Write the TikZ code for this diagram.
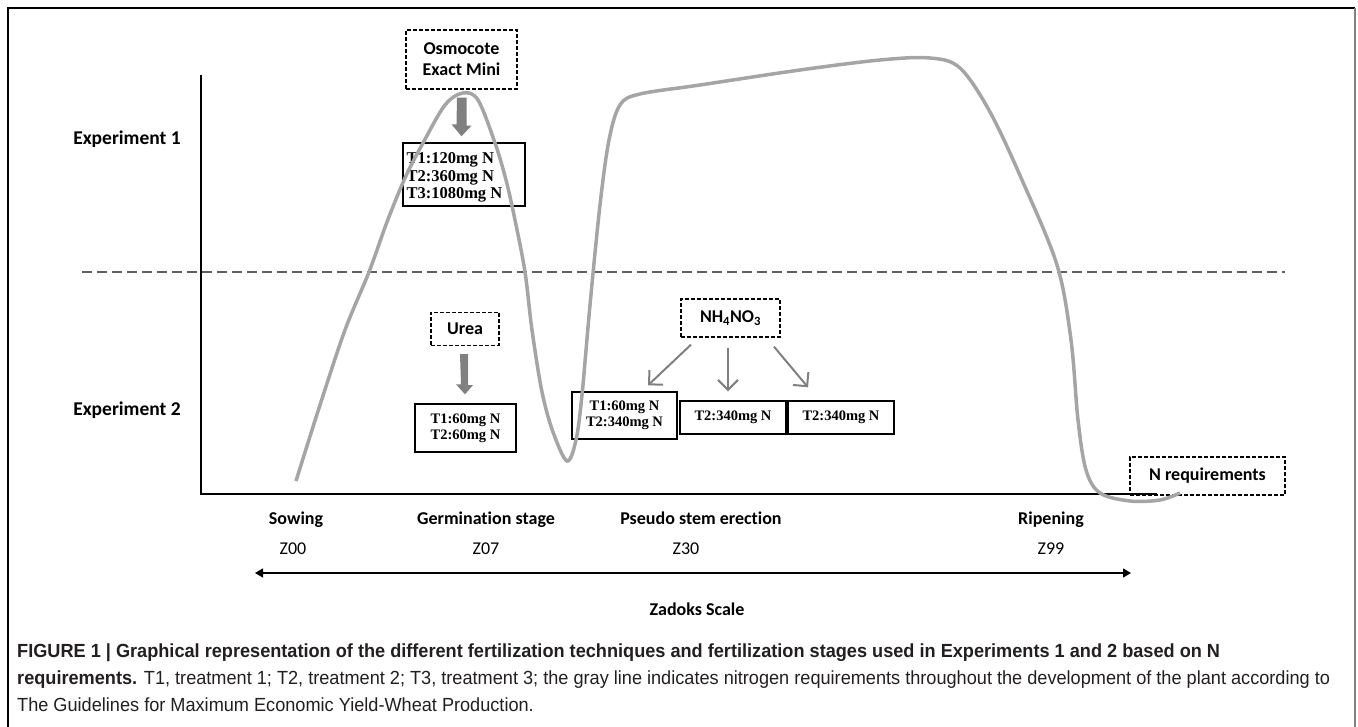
\documentclass[tikz,border=0pt]{standalone}
\usepackage{fontspec}
\setmainfont{Carlito}[Ligatures=NoCommon]
\newfontfamily\tnr{Liberation Serif}
\newfontfamily\capf[FakeStretch=0.955]{Liberation Sans}
\usetikzlibrary{arrows.meta,calc}
\definecolor{curvegray}{RGB}{165,165,165}
\definecolor{arrgray}{RGB}{128,128,128}
\definecolor{dashgray}{RGB}{95,95,95}
\definecolor{captext}{RGB}{35,31,32}
\begin{document}
\begin{tikzpicture}[x=1pt,y=-1pt,
  lbl/.style={font=\bfseries\fontsize{18}{20}\selectfont, inner sep=0pt, anchor=base},
  zlbl/.style={font=\fontsize{18}{20}\selectfont, inner sep=0pt, anchor=base},
  explbl/.style={font=\bfseries\fontsize{19.5}{21}\selectfont, inner sep=0pt},
  dbox/.style={draw, line width=1.3pt, dash pattern=on 4pt off 2pt, align=center, inner sep=0pt,
     font=\bfseries\fontsize{18}{21}\selectfont},
  tbox/.style={draw, line width=1.4pt, inner sep=0pt, font=\tnr\bfseries\fontsize{14.5}{16}\selectfont, align=center},
  blockarrow/.style={fill=arrgray, draw=none},
  garrow/.style={draw=arrgray, line width=2pt, -{Straight Barb[length=10pt,width=20pt,line width=2pt]}},
  axisline/.style={draw=black, line width=1.5pt},
  capline/.style={anchor=base west, inner sep=0pt, text=captext, font=\capf\fontsize{19}{27}\selectfont}
]
\useasboundingbox (0,0) rectangle (1358,727);
% frame
\draw[black, line width=1.5pt] (8,727) -- (8,8) -- (1355,8);
\draw[gray, line width=2pt] (1355,8) -- (1355,727);

% axes
\coordinate (ytop) at (201,75);
\coordinate (orig) at (201,494);
\coordinate (xend) at (1157,494);
\draw[axisline] (ytop) -- (orig) -- (xend);

% dashed separator
\coordinate (dl) at (82,272);
\coordinate (dr) at (1285,272);
\draw[dashgray, line width=2.4pt, dash pattern=on 10pt off 5pt] (dl) -- (dr);

% experiment labels
\node[explbl] (exp1) at (127,139) {Experiment 1};
\node[explbl] (exp2) at (127,410) {Experiment 2};

% Experiment 1 boxes
\node[dbox, minimum width=111pt, minimum height=59pt] (osmo) at (461.5,59.5) {Osmocote\\Exact Mini};
\node[tbox, minimum width=122pt, minimum height=63pt] (t1) at (464,174.5) {};
\node[inner sep=0pt, anchor=west, align=left, font=\tnr\bfseries\fontsize{16.5}{17.5}\selectfont]
   (t1txt) at ($(t1.west)+(4,3)$) {T1:120mg N\\T2:360mg N\\T3:1080mg N};
\path[blockarrow] ($(osmo.south)+(-4.5,8)$) -- ++(9.5,0) -- ++(0,28) -- ++(5,0)
   -- ($(t1.north)+(-2.5,-6)$) -- ++(-10,-12) -- ++(5,0) -- cycle;

% Experiment 2 boxes
\node[dbox, minimum width=68pt, minimum height=33pt] (urea) at (465,329) {Urea};
\node[tbox, minimum width=101pt, minimum height=48pt] (t2) at (465.5,428) {T1:60mg N\\T2:60mg N};
\path[blockarrow] ($(urea.south)+(-5,8)$) -- ++(8,0) -- ++(0,31) -- ++(5,0)
   -- ($(t2.north)+(-0.5,-9)$) -- ++(-9,-10) -- ++(5,0) -- cycle;

\node[dbox, minimum width=99pt, minimum height=38pt] (nh) at (730.5,318) {NH\textsubscript{4}NO\textsubscript{3}};
\node[tbox, minimum width=105pt, minimum height=47pt] (b1) at (624.5,415.5) {T1:60mg N\\T2:340mg N};
\node[tbox, minimum width=106pt, minimum height=33pt] (b2) at (733,417.5) {T2:340mg N};
\node[tbox, minimum width=106pt, minimum height=33pt] (b3) at (841,417.5) {T2:340mg N};
\draw[garrow] ($(nh.south)+(-39.5,7)$) -- ($(b1.north)+(23.5,-6)$);
\draw[garrow] ($(nh.south)+(-2.5,10)$) -- ($(b2.north)+(-5,-9)$);
\draw[garrow] ($(nh.south)+(43.5,9)$) -- ($(b3.north)+(-33,-13)$);

\node[dbox, minimum width=155pt, minimum height=38pt] (nreq) at (1207.5,476) {N requirements};

% N requirement curve
\draw[curvegray, line width=3.5pt] plot[smooth, tension=0.55] coordinates {
 (296,481) (320,405) (345,330) (369,272) (387,222) (405,178) (423,143) (445,105) (463,93)
 (478,100) (495,143) (506,180) (515,220) (525,272) (532,330) (542,392) (553,432) (567,461)
 (576,440) (582,395) (590,305) (600,205) (609,140) (620,105) (640,94) (700,85)
 (800,70) (880,60) (930,58) (960,68) (990,112) (1022,180) (1057,265) (1071,340)
 (1078,420) (1086,470) (1100,493) (1130,501) (1160,500) (1180,493)};

% stage labels
\node[lbl] (sow) at (296,524) {Sowing};
\node[lbl] (germ) at (486,524) {Germination stage};
\node[lbl] (pse) at (701,524) {Pseudo stem erection};
\node[lbl] (rip) at (1051,524) {Ripening};
\node[zlbl] (z00) at (293,554) {Z00};
\node[zlbl] (z07) at (486,554) {Z07};
\node[zlbl] (z30) at (686,554) {Z30};
\node[zlbl] (z99) at (1051,554) {Z99};

\coordinate (sl) at (255,573);
\coordinate (sr) at (1131,573);
\draw[black, line width=1.3pt, {Triangle[length=8pt,width=9pt]}-{Triangle[length=8pt,width=9pt]}] (sl) -- (sr);
\node[lbl] (zad) at (697,615) {Zadoks Scale};

% caption
\node[capline] (cap1) at (17,657) {\bfseries FIGURE 1 | Graphical representation of the different fertilization techniques and fertilization stages used in Experiments 1 and 2 based on N};
\node[capline] (cap2) at (17,684) {\textbf{requirements.} T1, treatment 1; T2, treatment 2; T3, treatment 3; the gray line indicates nitrogen requirements throughout the development of the plant according to};
\node[capline] (cap3) at (17,711) {The Guidelines for Maximum Economic Yield-Wheat Production.};
\end{tikzpicture}
\end{document}
